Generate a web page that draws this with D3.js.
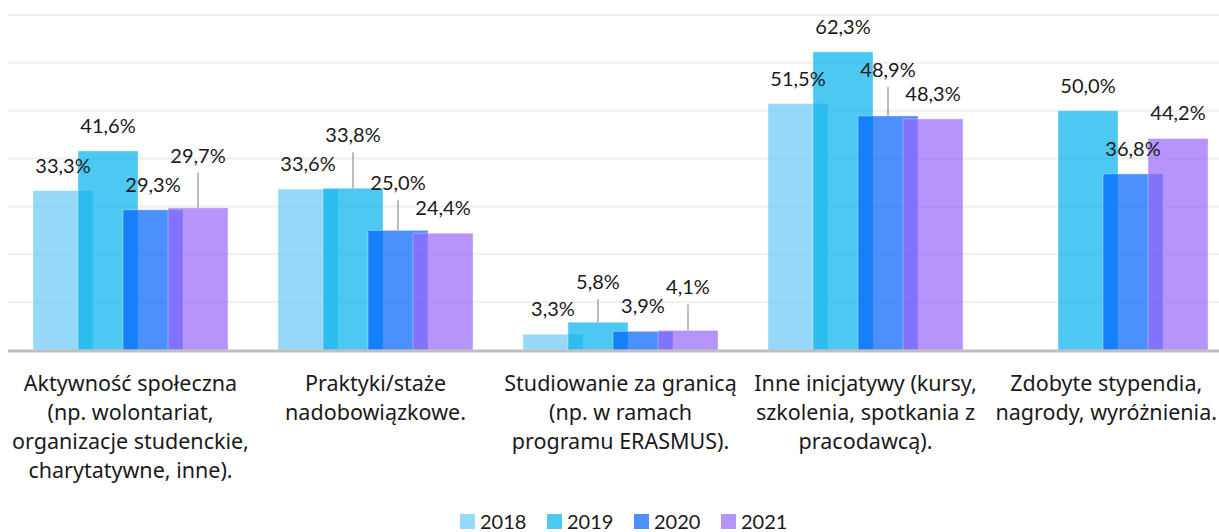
<!DOCTYPE html>
<html>
<head>
<meta charset="utf-8">
<script src="https://cdn.jsdelivr.net/npm/d3@7"></script>
<style>
  body { margin: 0; background: #fff; }
  svg text { font-family: Lato, "Open Sans", sans-serif; fill: #1a1a1a; }
  svg text.cat { font-family: "Noto Sans", "Open Sans", sans-serif; }
</style>
</head>
<body>
<div class="core_div"></div>
<script>

// Data
var categories = [
  ["Aktywność społeczna", "(np. wolontariat,", "organizacje studenckie,", "charytatywne, inne)."],
  ["Praktyki/staże", "nadobowiązkowe."],
  ["Studiowanie za granicą", "(np. w ramach", "programu ERASMUS)."],
  ["Inne inicjatywy (kursy,", "szkolenia, spotkania z", "pracodawcą)."],
  ["Zdobyte stypendia,", "nagrody, wyróżnienia."]
];
var years = ["2018", "2019", "2020", "2021"];
var values2018 = [33.3, 33.6, 3.3, 51.5, null];
var values2019 = [41.6, 33.8, 5.8, 62.3, 50.0];
var values2020 = [29.3, 25.0, 3.9, 48.9, 36.8];
var values2021 = [29.7, 24.4, 4.1, 48.3, 44.2];
var yTicks = [10, 20, 30, 40, 50, 60, 70];

var series = [values2018, values2019, values2020, values2021];
var colors = ["#6AC9F9", "#00B0EC", "#0061FE", "#9866F9"];

// labels that were dragged up with a leader line (cat index - series index : extra px)
var labelLift = {"0-3": 27, "1-1": 28, "1-2": 22, "2-1": 15, "2-3": 18, "3-2": 21};

var width = 1219, height = 532;
var plotLeft = 8, plotRight = 1233, plotTop = 15, plotBottom = 350;
var BAR_W = 60, FONT = 20;

var svg = d3.select(".core_div").append("svg")
    .attr("width", width)
    .attr("height", height);

var x = d3.scaleBand()
    .domain(d3.range(categories.length))
    .range([plotLeft, plotRight]);

// bars inside a group overlap (step 45, width 60)
var xs = d3.scalePoint()
    .domain(years)
    .range([-67.5, 67.5]);

var y = d3.scaleLinear()
    .domain([0, 70])
    .range([plotBottom, plotTop]);

// gridlines
svg.append("g").selectAll("line")
    .data(yTicks)
  .enter().append("line")
    .attr("x1", plotLeft)
    .attr("x2", width)
    .attr("y1", function(d) { return y(d); })
    .attr("y2", function(d) { return y(d); })
    .style("stroke", "#EFEFEF")
    .style("stroke-width", 2);

// flatten bars
var bars = [];
series.forEach(function(vals, s) {
  vals.forEach(function(v, c) {
    if (v == null) return;
    bars.push({cat: c, s: s, year: years[s], value: v});
  });
});

function barCenter(d) { return x(d.cat) + x.bandwidth() / 2 + xs(d.year); }

svg.append("g").selectAll("rect")
    .data(bars)
  .enter().append("rect")
    .attr("x", function(d) { return barCenter(d) - BAR_W / 2; })
    .attr("y", function(d) { return y(d.value); })
    .attr("width", BAR_W)
    .attr("height", function(d) { return y(0) - y(d.value); })
    .style("fill", function(d) { return colors[d.s]; })
    .style("fill-opacity", 0.7)
    .style("stroke", "#fff")
    .style("stroke-opacity", 0.35)
    .style("stroke-width", 1);

// baseline
svg.append("line")
    .attr("x1", plotLeft)
    .attr("x2", width)
    .attr("y1", y(0) + 1)
    .attr("y2", y(0) + 1)
    .style("stroke", "#BFBFBF")
    .style("stroke-width", 3);

// data labels
function labelY(d) {
  var lift = labelLift[d.cat + "-" + d.s] || 0;
  return y(d.value) - 18 - lift;
}

svg.append("g").selectAll("line")
    .data(bars.filter(function(d) { return labelLift[d.cat + "-" + d.s]; }))
  .enter().append("line")
    .attr("x1", barCenter)
    .attr("x2", barCenter)
    .attr("y1", function(d) { return labelY(d) + 10; })
    .attr("y2", function(d) { return y(d.value); })
    .style("stroke", "#A6A6A6")
    .style("stroke-width", 1.5);

svg.append("g").selectAll("text")
    .data(bars)
  .enter().append("text")
    .attr("x", barCenter)
    .attr("y", labelY)
    .attr("text-anchor", "middle")
    .style("font-size", FONT + "px")
    .text(function(d) { return d.value.toFixed(1).replace(".", ",") + "%"; });

// category labels
var catG = svg.append("g").selectAll("g")
    .data(categories)
  .enter().append("g");

catG.each(function(lines, c) {
  var g = d3.select(this);
  var cx = x(c) + x.bandwidth() / 2;
  var t = g.selectAll("text")
      .data(lines)
    .enter().append("text")
      .attr("class", "cat")
      .attr("x", cx)
      .attr("y", function(d, i) { return 391 + i * 29; })
      .attr("text-anchor", "middle")
      .style("font-size", "21.5px")
      .text(function(d) { return d; });
  // keep the block inside the svg
  var maxW = d3.max(t.nodes(), function(n) { return n.getComputedTextLength(); });
  if (cx - maxW / 2 < plotLeft) t.attr("x", plotLeft + maxW / 2);
  if (cx + maxW / 2 > width - 2) t.attr("x", width - 2 - maxW / 2);
});

// legend
var legend = svg.append("g")
    .attr("transform", "translate(460,513)");

var item = legend.selectAll("g")
    .data(years)
  .enter().append("g")
    .attr("transform", function(d, i) { return "translate(" + (i * 87) + ",0)"; });

item.append("rect")
    .attr("y", 1)
    .attr("width", 15)
    .attr("height", 15)
    .style("fill", function(d, i) { return colors[i]; })
    .style("fill-opacity", 0.7);

item.append("text")
    .attr("x", 20)
    .attr("y", 16)
    .style("font-size", FONT + "px")
    .text(function(d) { return d; });

</script>
</body>
</html>
